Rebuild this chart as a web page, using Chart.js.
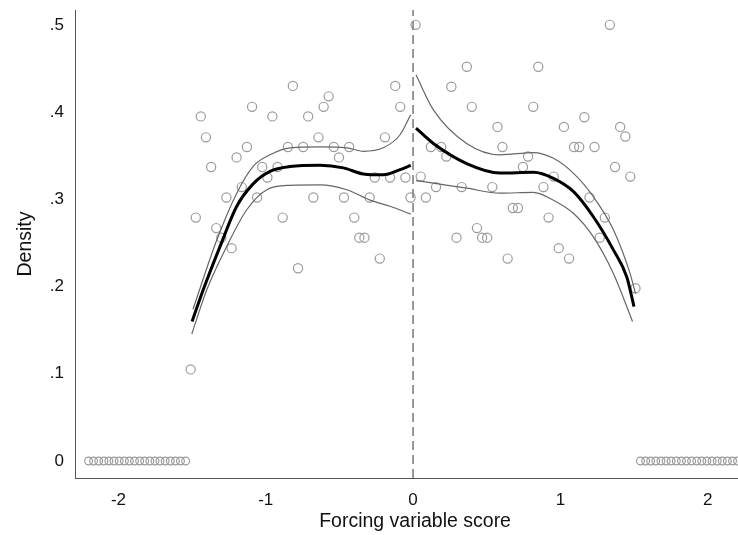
<!DOCTYPE html>
<html lang="en">
<head>
    <meta charset="UTF-8">
    <title>Density around cutoff</title>
    <script src="https://cdn.jsdelivr.net/npm/chart.js"></script>
    <style>
        body {
            margin: 0;
            padding: 0;
            background: #fff;
        }
        #wrap {
            width: 738px;
            height: 535px;
        }
    </style>
</head>
<body>
    <div id="wrap"><canvas id="densityChart" width="738" height="535"></canvas></div>

    <script>
        // bin midpoints (forcing variable score) and density per bin
        const zeroLeftX = [-2.203, -2.169, -2.134, -2.099, -2.065, -2.030, -1.995, -1.960, -1.926, -1.891,
                           -1.856, -1.822, -1.787, -1.752, -1.718, -1.683, -1.648, -1.613, -1.579, -1.544];
        const zeroLeftY = [0, 0, 0, 0, 0, 0, 0, 0, 0, 0, 0, 0, 0, 0, 0, 0, 0, 0, 0, 0];

        const binLeftX = [-1.510, -1.475, -1.441, -1.406, -1.371, -1.336, -1.302, -1.267, -1.232, -1.198,
                          -1.163, -1.128, -1.093, -1.059, -1.024, -0.989, -0.955, -0.920, -0.885, -0.850,
                          -0.816, -0.781, -0.746, -0.712, -0.677, -0.642, -0.607, -0.573, -0.538, -0.503,
                          -0.469, -0.434, -0.399, -0.365, -0.330, -0.295, -0.260, -0.226, -0.191, -0.156,
                          -0.121, -0.087, -0.052, -0.017];
        const binLeftY = [0.105, 0.279, 0.395, 0.371, 0.337, 0.267, 0.256, 0.302, 0.244, 0.348,
                          0.314, 0.360, 0.406, 0.302, 0.337, 0.325, 0.395, 0.337, 0.279, 0.360,
                          0.430, 0.221, 0.360, 0.395, 0.302, 0.371, 0.406, 0.418, 0.360, 0.348,
                          0.302, 0.360, 0.279, 0.256, 0.256, 0.302, 0.325, 0.232, 0.371, 0.325,
                          0.430, 0.406, 0.325, 0.302];

        const binRightX = [0.017, 0.052, 0.087, 0.121, 0.156, 0.191, 0.226, 0.260, 0.295, 0.330,
                           0.365, 0.399, 0.434, 0.469, 0.503, 0.538, 0.573, 0.607, 0.642, 0.677,
                           0.712, 0.746, 0.781, 0.816, 0.850, 0.885, 0.920, 0.955, 0.989, 1.024,
                           1.059, 1.093, 1.128, 1.163, 1.198, 1.232, 1.267, 1.302, 1.336, 1.371,
                           1.406, 1.441, 1.475, 1.510];
        const binRightY = [0.500, 0.326, 0.302, 0.360, 0.314, 0.360, 0.349, 0.429, 0.256, 0.314,
                           0.452, 0.406, 0.267, 0.256, 0.256, 0.314, 0.383, 0.360, 0.232, 0.290,
                           0.290, 0.337, 0.349, 0.406, 0.452, 0.314, 0.279, 0.326, 0.244, 0.383,
                           0.232, 0.360, 0.360, 0.394, 0.302, 0.360, 0.256, 0.279, 0.500, 0.337,
                           0.383, 0.372, 0.326, 0.198];

        const zeroRightX = [1.544, 1.579, 1.613, 1.648, 1.683, 1.718, 1.752, 1.787, 1.822, 1.856,
                            1.891, 1.926, 1.960, 1.995, 2.030, 2.065, 2.099, 2.134, 2.169, 2.203];
        const zeroRightY = [0, 0, 0, 0, 0, 0, 0, 0, 0, 0, 0, 0, 0, 0, 0, 0, 0, 0, 0, 0];

        // local polynomial fit and confidence band, each side of the cutoff
        const fitLeftX = [-1.500, -1.425, -1.310, -1.197, -1.084, -0.971, -0.835, -0.631, -0.473, -0.337, -0.202, -0.088, -0.016];
        const fitLeftY = [0.160, 0.196, 0.246, 0.292, 0.318, 0.332, 0.3375, 0.339, 0.336, 0.329, 0.328, 0.334, 0.339];
        const hiLeftX = [-1.494, -1.333, -1.197, -1.084, -0.971, -0.835, -0.631, -0.450, -0.337, -0.202, -0.088, -0.016];
        const hiLeftY = [0.174, 0.253, 0.307, 0.338, 0.351, 0.359, 0.360, 0.359, 0.355, 0.359, 0.374, 0.397];
        const loLeftX = [-1.502, -1.401, -1.265, -1.129, -0.993, -0.835, -0.631, -0.450, -0.292, -0.156, -0.016];
        const loLeftY = [0.1456, 0.196, 0.246, 0.288, 0.311, 0.316, 0.3165, 0.311, 0.299, 0.292, 0.283];

        const fitRightX = [0.020, 0.138, 0.364, 0.591, 0.817, 0.953, 1.088, 1.224, 1.360, 1.451, 1.500];
        const fitRightY = [0.3815, 0.364, 0.341, 0.330, 0.331, 0.324, 0.309, 0.280, 0.242, 0.211, 0.177];
        const hiRightX = [0.020, 0.138, 0.364, 0.591, 0.817, 0.953, 1.088, 1.224, 1.360, 1.473, 1.510];
        const hiRightY = [0.4427, 0.4025, 0.364, 0.351, 0.3536, 0.347, 0.330, 0.303, 0.265, 0.215, 0.192];
        const loRightX = [0.020, 0.138, 0.364, 0.591, 0.817, 0.953, 1.088, 1.224, 1.360, 1.490];
        const loRightY = [0.3215, 0.3185, 0.3127, 0.307, 0.308, 0.299, 0.284, 0.257, 0.215, 0.160];

        const cutoff = 0;
        const xTicks = [-2, -1, 0, 1, 2];
        const yTicks = [0, 0.1, 0.2, 0.3, 0.4, 0.5];
        const xMin = -2.295, xMax = 2.206;
        const yMin = -0.0195, yMax = 0.517;
        const xTitle = 'Forcing variable score';

        function pts(xs, ys) {
            return xs.map((x, i) => ({ x: x, y: ys[i] }));
        }

        const FONT = "'Liberation Sans', Arial, sans-serif";

        function circles(xs, ys, r) {
            return {
                type: 'scatter',
                data: pts(xs, ys),
                pointStyle: 'circle',
                pointRadius: r,
                pointBorderWidth: 1.2,
                pointBorderColor: '#9b9b9b',
                pointBackgroundColor: 'rgba(0,0,0,0)',
                showLine: false,
                order: 5
            };
        }

        function curve(xs, ys, color, width) {
            return {
                type: 'line',
                data: pts(xs, ys),
                borderColor: color,
                borderWidth: width,
                pointRadius: 0,
                fill: false,
                cubicInterpolationMode: 'monotone',
                order: 2
            };
        }

        // keep tick labels from pushing the plot area inwards
        function noLabelPadding(axis) {
            axis.paddingTop = 0;
            axis.paddingBottom = 0;
            axis.paddingLeft = 0;
            axis.paddingRight = 0;
        }

        // x axis title sits under the cutoff, like the original
        const xTitlePlugin = {
            id: 'xTitle',
            afterDraw(chart) {
                const c = chart.ctx;
                const xs = chart.scales.x;
                c.save();
                c.font = '19.5px ' + FONT;
                c.fillStyle = '#111';
                c.textAlign = 'center';
                c.textBaseline = 'middle';
                c.fillText(xTitle, xs.getPixelForValue(cutoff) + 2, xs.bottom - 13);
                c.restore();
            }
        };

        const ctx = document.getElementById('densityChart').getContext('2d');

        new Chart(ctx, {
            type: 'scatter',
            data: {
                datasets: [
                    circles(zeroLeftX, zeroLeftY, 3.9),
                    circles(binLeftX, binLeftY, 4.6),
                    circles(binRightX, binRightY, 4.6),
                    circles(zeroRightX, zeroRightY, 3.9),
                    curve(hiLeftX, hiLeftY, '#666', 1.2),
                    curve(loLeftX, loLeftY, '#666', 1.2),
                    curve(fitLeftX, fitLeftY, '#000', 3),
                    curve(hiRightX, hiRightY, '#666', 1.2),
                    curve(loRightX, loRightY, '#666', 1.2),
                    curve(fitRightX, fitRightY, '#000', 3),
                    {
                        type: 'line',
                        data: [{ x: cutoff, y: yMin }, { x: cutoff, y: yMax }],
                        borderColor: '#777',
                        borderWidth: 1.5,
                        borderDash: [9, 5],
                        pointRadius: 0,
                        order: 1
                    }
                ]
            },
            plugins: [xTitlePlugin],
            options: {
                responsive: false,
                animation: false,
                layout: { autoPadding: false, padding: { top: 10, right: 0, left: 0, bottom: 0 } },
                plugins: {
                    legend: { display: false },
                    tooltip: { enabled: false }
                },
                scales: {
                    x: {
                        type: 'linear',
                        min: xMin,
                        max: xMax,
                        afterBuildTicks: (axis) => { axis.ticks = xTicks.map(v => ({ value: v })); },
                        afterFit: (axis) => { axis.height = 57; noLabelPadding(axis); },
                        grid: { display: false, drawTicks: false },
                        border: { display: true, color: '#555', width: 1 },
                        ticks: {
                            padding: 12,
                            color: '#111',
                            font: { family: FONT, size: 17 },
                            callback: (v) => String(v)
                        },
                        title: { display: false }
                    },
                    y: {
                        type: 'linear',
                        min: yMin,
                        max: yMax,
                        afterBuildTicks: (axis) => { axis.ticks = yTicks.map(v => ({ value: v })); },
                        afterFit: (axis) => { axis.width = 75; noLabelPadding(axis); },
                        grid: { display: false, drawTicks: false },
                        border: { display: true, color: '#555', width: 1 },
                        ticks: {
                            padding: 11,
                            color: '#111',
                            font: { family: FONT, size: 17 },
                            callback: (v) => v === 0 ? '0' : String(Math.round(v * 10) / 10).replace('0.', '.')
                        },
                        title: {
                            display: true,
                            text: 'Density',
                            color: '#111',
                            font: { family: FONT, size: 19.5 },
                            padding: { top: 14, bottom: 0 }
                        }
                    }
                }
            }
        });
    </script>
</body>
</html>
